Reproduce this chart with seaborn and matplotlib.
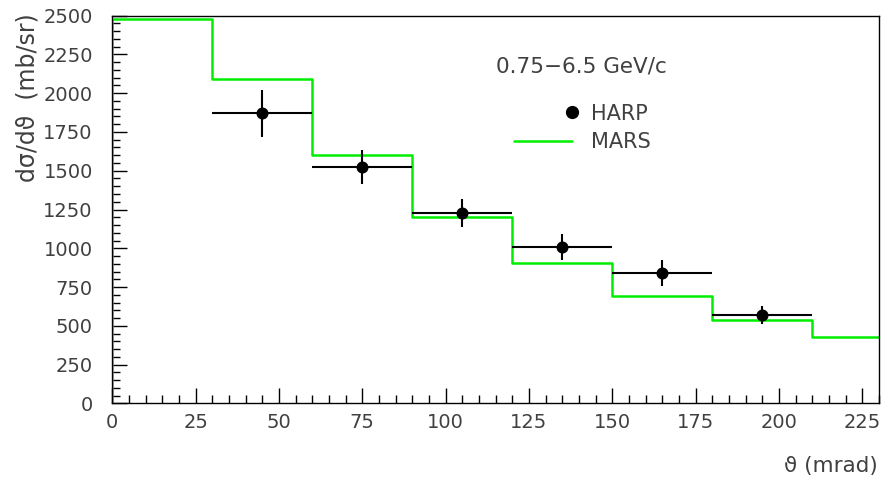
import numpy as np
import pandas as pd
import matplotlib
matplotlib.use("Agg")
import matplotlib.pyplot as plt
import seaborn as sns
from matplotlib.lines import Line2D
from matplotlib.legend_handler import HandlerLine2D
from matplotlib.ticker import MultipleLocator

# ---- data ----
harp_theta = [45, 75, 105, 135, 165, 195]
harp_xerr = [15, 15, 15, 15, 15, 15]
harp_val = [1870, 1525, 1230, 1010, 840, 570]
harp_err = [150, 110, 90, 85, 85, 60]

mars_edges = [0, 30, 60, 90, 120, 150, 180, 210, 230]
mars_val = [2480, 2090, 1600, 1200, 905, 695, 540, 425]

x_ticks = [0, 25, 50, 75, 100, 125, 150, 175, 200, 225]
y_ticks = [0, 250, 500, 750, 1000, 1250, 1500, 1750, 2000, 2250, 2500]

sns.set_style("white")
plt.rcParams['font.family'] = ['DejaVu Sans']
txt_col = '#404040'
FS = 14


class RightMarkerHandler(HandlerLine2D):
    """Legend handler that puts the marker at the right end of the handle."""
    def create_artists(self, legend, orig_handle, xdescent, ydescent, width,
                       height, fontsize, trans):
        arts = super().create_artists(legend, orig_handle, xdescent, ydescent,
                                      width, height, fontsize, trans)
        for a in arts:
            xd = a.get_xdata()
            if len(xd) > 0:
                a.set_markevery([len(xd) - 1])
        return arts


fig = plt.figure(figsize=(8.93, 4.82), dpi=100)
ax = fig.add_axes([0.1257, 0.1633, 0.8586, 0.8041])

# MARS histogram
step_x = [mars_edges[0]] + list(mars_edges)
step_y = [0] + list(mars_val) + [mars_val[-1]]
mars_df = pd.DataFrame({'x': step_x, 'y': step_y})
sns.lineplot(data=mars_df, x='x', y='y', estimator=None, sort=False,
             drawstyle='steps-post', color='#00ee00', lw=1.8, ax=ax, zorder=2)

# HARP points
ax.errorbar(harp_theta, harp_val, xerr=harp_xerr, yerr=harp_err, fmt='none',
            ecolor='black', elinewidth=1.5, capsize=0, zorder=3)
harp_df = pd.DataFrame({'x': harp_theta, 'y': harp_val})
sns.scatterplot(data=harp_df, x='x', y='y', color='black', s=75,
                edgecolor='black', linewidth=0, ax=ax, zorder=4)

ax.set_xlim(0, 230)
ax.set_ylim(0, 2500)
ax.set_xticks(x_ticks)
ax.set_yticks(y_ticks)
ax.xaxis.set_minor_locator(MultipleLocator(5))
ax.yaxis.set_minor_locator(MultipleLocator(50))
ax.tick_params(which='major', direction='in', length=11, width=1.0, color='black',
               labelsize=FS, labelcolor=txt_col)
ax.tick_params(axis='x', which='major', pad=7)
ax.tick_params(axis='y', which='major', pad=14)
ax.tick_params(which='minor', direction='in', length=5.5, width=1.0, color='black')
ax.tick_params(axis='both', which='both', top=False, right=False, left=True, bottom=True)
for s in ax.spines.values():
    s.set_color('black')
    s.set_linewidth(1.0)
    s.set_visible(True)

ax.set_xlabel('')
ax.set_ylabel('')
fig.text(0.983, 0.012, 'ϑ (mrad)', ha='right', va='bottom', fontsize=15.5, color=txt_col)
fig.text(0.031, 0.973, 'dσ/dϑ  (mb/sr)', ha='center', va='top', rotation=90,
         fontsize=17, color=txt_col)

ax.text(0.501, 0.87, '0.75\u22126.5 GeV/c', transform=ax.transAxes, ha='left',
        va='center', fontsize=15.5, color=txt_col)

h_harp = Line2D([], [], marker='o', color='black', ls='none', markersize=8.5)
h_mars = Line2D([], [], color='#00ee00', lw=1.8)
leg = ax.legend([h_harp, h_mars], ['HARP', 'MARS'], loc='upper left',
                bbox_to_anchor=(0.51, 0.80), frameon=False, fontsize=15,
                handlelength=2.8, handletextpad=0.9, labelspacing=0.4, borderpad=0,
                handler_map={h_harp: RightMarkerHandler()})
for t in leg.get_texts():
    t.set_color(txt_col)

fig.savefig('out.png', dpi=100)
